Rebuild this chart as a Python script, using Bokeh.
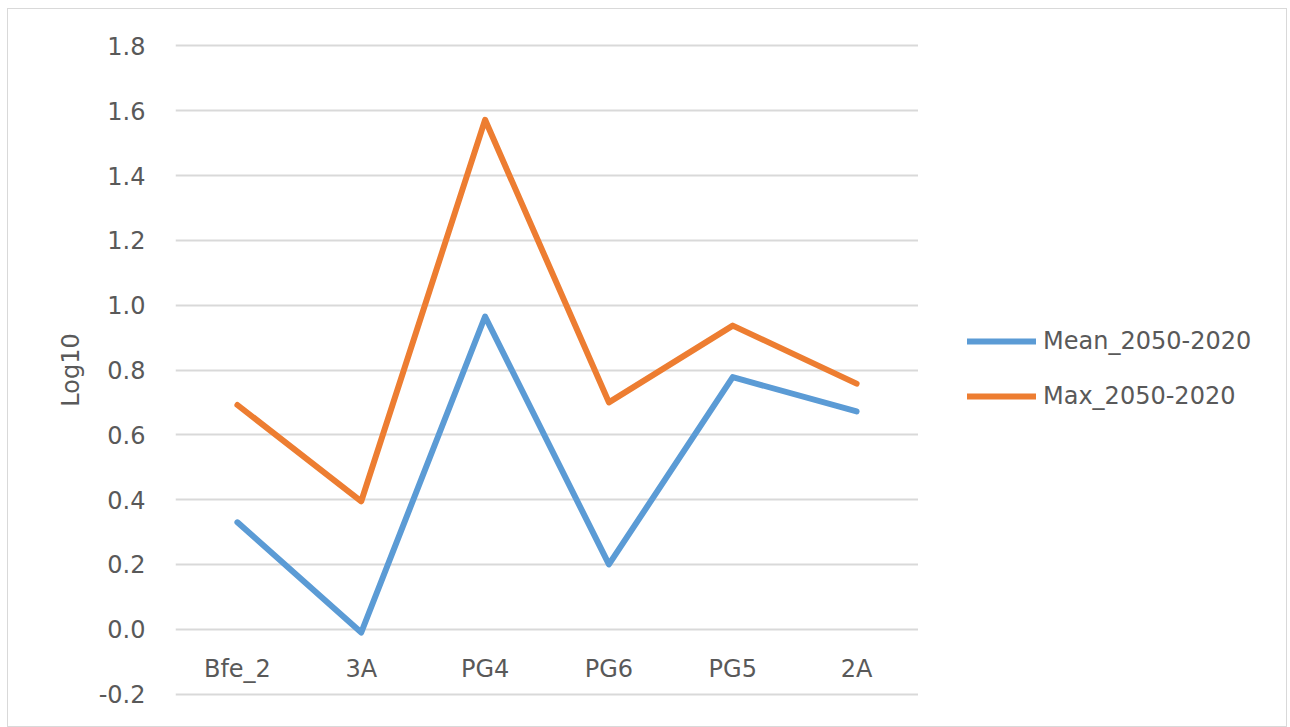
from bokeh.plotting import figure
from bokeh.layouts import row
from bokeh.models import (FactorRange, Range1d, FixedTicker, PrintfTickFormatter,
                          Legend, LegendItem)
from bokeh.embed import file_html
from bokeh.resources import INLINE

categories = ["Bfe_2", "3A", "PG4", "PG6", "PG5", "2A"]
mean_2050_2020 = [0.33, -0.01, 0.965, 0.20, 0.778, 0.672]
max_2050_2020 = [0.692, 0.395, 1.572, 0.70, 0.937, 0.758]
y_ticks = [-0.2, 0.0, 0.2, 0.4, 0.6, 0.8, 1.0, 1.2, 1.4, 1.6, 1.8]
series_names = ["Mean_2050-2020", "Max_2050-2020"]

FONT = "DejaVu Sans"
TXT = "#595959"
BLUE = "#5B9BD5"
ORANGE = "#ED7D31"
LINE = dict(line_width=6, line_cap="round", line_join="round")

# ---- main chart ----
p = figure(x_range=FactorRange(*categories), y_range=Range1d(-0.3, 1.9),
           width=910, height=717, output_backend="svg", toolbar_location=None,
           min_border_left=167, min_border_right=0, min_border_top=4,
           min_border_bottom=0)
p.outline_line_color = None
p.background_fill_color = "white"
p.border_fill_color = "white"

p.line(categories, mean_2050_2020, line_color=BLUE, **LINE)
p.line(categories, max_2050_2020, line_color=ORANGE, **LINE)

yax = p.yaxis[0]
yax.ticker = FixedTicker(ticks=y_ticks)
yax.formatter = PrintfTickFormatter(format="%.1f")
yax.axis_line_color = None
yax.major_tick_line_color = None
yax.minor_tick_line_color = None
yax.major_label_text_font = FONT
yax.major_label_text_font_size = "24px"
yax.major_label_text_color = TXT
yax.major_label_standoff = 24
yax.axis_label = "Log10"
yax.axis_label_text_font = FONT
yax.axis_label_text_font_size = "24px"
yax.axis_label_text_font_style = "normal"
yax.axis_label_text_color = TXT
yax.axis_label_standoff = 11

xax = p.xaxis[0]
xax.fixed_location = 0
xax.axis_line_color = None
xax.major_tick_line_color = None
xax.minor_tick_line_color = None
xax.major_label_text_font = FONT
xax.major_label_text_font_size = "24px"
xax.major_label_text_color = TXT
xax.major_label_standoff = 20

p.xgrid.grid_line_color = None
p.ygrid.ticker = FixedTicker(ticks=y_ticks)
p.ygrid.grid_line_color = "#d9d9d9"
p.ygrid.grid_line_width = 2

# ---- legend panel (same series, kept out of its view so only the legend shows) ----
q = figure(x_range=FactorRange(*categories), y_range=Range1d(10, 11),
           width=368, height=717, output_backend="svg", toolbar_location=None,
           min_border_left=0, min_border_right=0, min_border_top=0,
           min_border_bottom=0)
q.axis.visible = False
q.grid.visible = False
q.outline_line_color = None
q.background_fill_color = "white"
q.border_fill_color = "white"
q1 = q.line(categories, mean_2050_2020, line_color=BLUE, **LINE)
q2 = q.line(categories, max_2050_2020, line_color=ORANGE, **LINE)

legend = Legend(items=[LegendItem(label=series_names[0], renderers=[q1]),
                       LegendItem(label=series_names[1], renderers=[q2])],
                location=(49, 316))
legend.border_line_color = None
legend.background_fill_alpha = 0
legend.padding = 0
legend.margin = 0
legend.glyph_width = 69
legend.glyph_height = 28
legend.label_height = 28
legend.spacing = 27
legend.label_standoff = 7
legend.label_text_font = FONT
legend.label_text_font_size = "24px"
legend.label_text_color = TXT
q.add_layout(legend, "center")

layout = row(p, q)
layout.styles = {"border": "1px solid #d9d9d9", "margin-left": "7px", "margin-top": "8px"}

open("out.html", "w").write(file_html(layout, INLINE))
